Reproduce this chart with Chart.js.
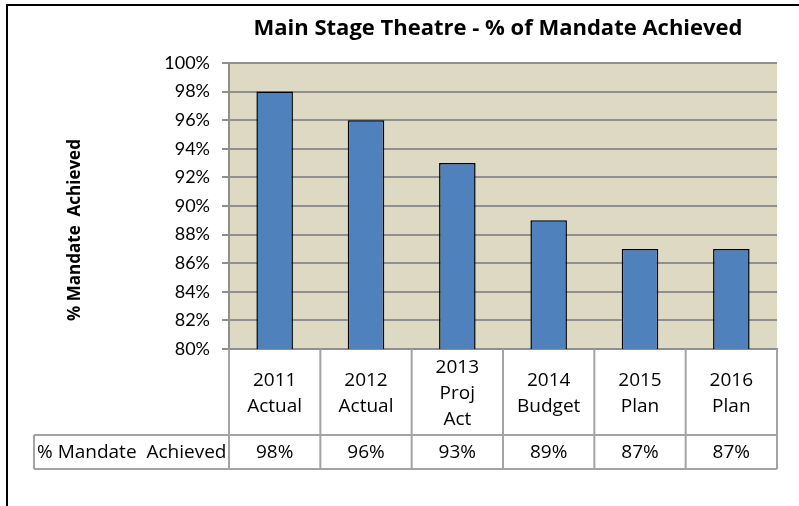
<!DOCTYPE html>
<html lang="en">
<head>
<meta charset="UTF-8">
<title>Main Stage Theatre - % of Mandate Achieved</title>
<style>
    body { margin: 0; background: #fff; }
    canvas { display: block; }
</style>
</head>
<body>
<canvas id="chart" width="799" height="506"></canvas>
<script src="https://cdn.jsdelivr.net/npm/chart.js"></script>
<script>
    // data
    const chartTitle = 'Main Stage Theatre - % of Mandate Achieved';
    const seriesName = '% Mandate  Achieved';
    const categories = [
        ['2011', 'Actual'],
        ['2012', 'Actual'],
        ['2013', 'Proj', 'Act'],
        ['2014', 'Budget'],
        ['2015', 'Plan'],
        ['2016', 'Plan']
    ];
    const mandatePct = [98, 96, 93, 89, 87, 87];
    const yMin = 80, yMax = 100, yStep = 2;

    const gridColor = '#8f8f8f';
    const tableColor = '#a3a3a3';
    const headerH = 86;
    const rowH = 34;

    // background of plot area, frame, titles and the data table
    const extras = {
        id: 'extras',
        beforeDraw(chart) {
            const { ctx, chartArea: a } = chart;
            ctx.save();
            ctx.fillStyle = '#fff';
            ctx.fillRect(0, 0, chart.width, chart.height);
            ctx.fillStyle = '#DDD9C3';
            ctx.fillRect(a.left, a.top, a.right - a.left, a.bottom - a.top);
            ctx.restore();
        },
        afterDraw(chart) {
            const { ctx, chartArea: a } = chart;
            const x = chart.scales.x;
            const half = (a.right - a.left) / categories.length / 2;
            const top = a.bottom;
            const mid = top + headerH;
            const bot = mid + rowH;
            ctx.save();

            // outer frame (cut off on the right and bottom)
            ctx.strokeStyle = '#000';
            ctx.lineWidth = 2;
            ctx.beginPath();
            ctx.moveTo(7, chart.height);
            ctx.lineTo(7, 5);
            ctx.lineTo(chart.width, 5);
            ctx.stroke();

            // chart title
            ctx.fillStyle = '#000';
            ctx.font = 'bold 22px "Open Sans"';
            ctx.textAlign = 'center';
            ctx.textBaseline = 'middle';
            ctx.fillText(chartTitle, (a.left + a.right) / 2 - 5, 29);

            // y axis title
            ctx.save();
            ctx.translate(75, 230);
            ctx.rotate(-Math.PI / 2);
            ctx.font = 'bold 17px "Open Sans"';
            ctx.fillText('% Mandate  Achieved', 0, 0);
            ctx.restore();

            // table lines
            ctx.strokeStyle = tableColor;
            ctx.lineWidth = 2;
            ctx.beginPath();
            ctx.moveTo(34, mid); ctx.lineTo(a.right, mid);
            ctx.moveTo(34, bot); ctx.lineTo(a.right, bot);
            ctx.moveTo(34, mid); ctx.lineTo(34, bot);
            ctx.moveTo(a.left, top); ctx.lineTo(a.left, bot);
            categories.forEach((c, i) => {
                const r = x.getPixelForValue(i) + half;
                ctx.moveTo(r, top); ctx.lineTo(r, bot);
            });
            ctx.stroke();

            // data row
            ctx.fillStyle = '#000';
            ctx.font = '19px "Open Sans"';
            ctx.textAlign = 'left';
            ctx.fillText(seriesName, 37, (mid + bot) / 2 + 1);
            ctx.textAlign = 'center';
            mandatePct.forEach((v, i) => {
                ctx.fillText(v + '%', x.getPixelForValue(i), (mid + bot) / 2 + 1);
            });
            ctx.restore();
        }
    };

    new Chart(document.getElementById('chart'), {
        type: 'bar',
        data: {
            labels: categories,
            datasets: [{
                label: seriesName,
                data: mandatePct,
                backgroundColor: '#4F81BD',
                borderColor: '#000',
                borderWidth: 1.5,
                categoryPercentage: 1,
                barPercentage: 0.4
            }]
        },
        options: {
            responsive: false,
            animation: false,
            layout: { padding: { top: 63, left: 0, right: 22, bottom: 506 - 435 } },
            plugins: {
                legend: { display: false },
                tooltip: { enabled: false }
            },
            scales: {
                x: {
                    afterFit(s) { s.height = headerH; },
                    grid: { display: false },
                    border: { display: true, color: gridColor, width: 2 },
                    ticks: {
                        color: '#000',
                        padding: 11,
                        crossAlign: 'center',
                        maxRotation: 0,
                        autoSkip: false,
                        font: { family: 'Open Sans', size: 19, lineHeight: 1.36 }
                    }
                },
                y: {
                    min: yMin,
                    max: yMax,
                    afterFit(s) { s.width = 229; },
                    grid: { color: gridColor, lineWidth: 2, tickLength: 7 },
                    border: { color: gridColor, width: 2 },
                    ticks: {
                        stepSize: yStep,
                        padding: 12,
                        color: '#000',
                        font: { family: 'Lato', size: 18 },
                        callback: v => v + '%'
                    }
                }
            }
        },
        plugins: [extras]
    });
</script>
</body>
</html>
